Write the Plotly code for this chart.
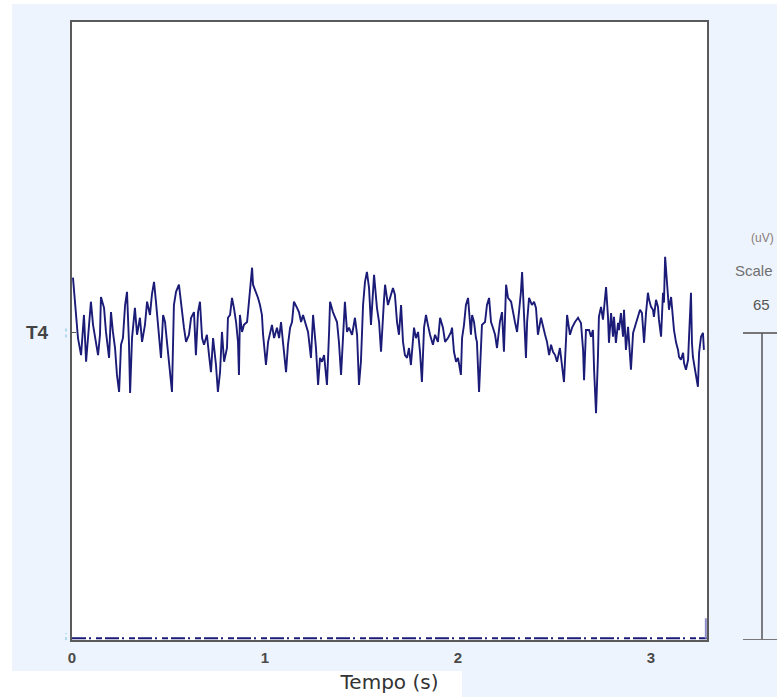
import plotly.graph_objects as go

# ---- data ----
t4_time = [0.005,0.016,0.031,0.047,0.062,0.073,0.088,0.098,0.109,0.119,0.135,0.145,0.150,0.166,0.176,0.192,0.202,0.212,0.223,0.233,
0.244,0.254,0.264,0.275,0.285,0.295,0.301,0.311,0.326,0.337,0.352,0.363,0.378,0.389,0.404,0.414,0.425,0.435,0.451,0.461,
0.472,0.482,0.492,0.508,0.518,0.528,0.539,0.554,0.565,0.580,0.591,0.606,0.617,0.632,0.642,
0.653,0.663,0.674,0.684,0.699,0.710,0.720,0.731,0.746,0.756,0.767,0.777,0.788,0.803,0.808,0.819,0.829,0.839,0.850,0.860,
0.865,0.870,0.881,0.891,0.907,0.912,0.922,0.933,0.938,0.953,0.964,0.974,0.984,0.990,1.005,1.016,1.026,1.036,1.047,1.062,
1.073,1.083,1.093,1.109,1.119,1.130,1.140,1.150,1.166,1.176,1.187,1.197,1.212,1.223,1.238,1.249,1.264,1.275,1.285,1.295,1.306,
1.311,1.321,1.332,1.337,1.352,1.363,1.373,1.383,1.394,1.404,1.414,1.425,1.435,1.451,1.466,1.477,1.487,1.497,1.508,1.518,
1.528,1.539,1.549,1.565,1.570,1.580,1.591,1.601,1.616,1.622,1.637,1.648,1.663,1.673,1.684,1.694,1.705,1.715,1.725,1.736,
1.746,1.756,1.772,1.782,1.793,1.803,1.813,1.824,1.834,1.844,1.855,1.870,1.881,1.896,1.907,1.922,1.933,1.948,
1.964,1.969,1.979,1.990,2.000,2.015,2.021,2.031,2.041,2.052,2.067,2.073,2.083,2.093,2.098,2.109,2.119,2.124,2.140,2.150,
2.161,2.171,2.181,2.192,2.202,2.217,2.228,2.238,2.249,2.259,2.275,2.280,2.295,2.306,2.316,2.326,2.332,2.342,2.352,2.358,
2.368,2.383,2.394,2.404,2.414,2.430,2.440,2.451,2.461,2.472,2.482,2.492,2.503,2.513,2.528,2.539,2.549,2.560,2.565,2.580,
2.591,2.606,2.622,2.627,2.637,2.648,2.653,2.663,2.679,2.689,2.699,2.705,2.715,2.725,2.730,2.741,2.751,2.756,2.767,2.777,
2.782,2.793,2.803,2.808,2.818,2.829,2.834,2.844,2.855,2.860,2.870,2.881,2.886,2.896,2.907,2.917,2.933,2.943,2.953,2.964,
2.974,2.984,2.990,3.000,3.010,3.015,3.026,3.036,3.041,3.052,3.062,3.067,3.073,3.083,3.088,3.093,3.104,3.114,3.119,3.130,
3.140,3.145,3.155,3.166,3.171,3.181,3.192,3.197,3.207,3.212,3.217,3.228,3.238,3.243,3.249,3.259,3.269,3.274]

t4_uv = [11.7,6.6,-1.1,-4.7,3.8,-6.1,1.1,6.6,1.7,-1.1,-4.7,-0.4,7.6,5.3,0.2,-5.3,4.4,0.2,-3.2,-8.9,
-12.5,-2.5,-1.1,5.9,8.7,-1.9,-12.7,-1.1,5.3,-0.4,3.2,-1.9,1.7,6.6,3.8,8.1,10.8,6.6,0.2,-5.3,
3.8,2.3,-1.9,-8.3,-12.5,5.9,8.7,10.2,5.9,1.1,-1.9,-0.4,3.2,4.4,-4.7,
4.4,6.6,-1.1,-2.5,-0.4,-4.7,-8.3,-1.1,-6.8,-12.5,-8.3,0.2,-6.1,-3.2,3.2,3.8,7.4,5.3,2.3,-1.9,
-8.9,3.8,0.2,1.7,2.3,4.4,9.5,13.8,10.2,8.7,7.4,5.9,3.8,-0.4,-6.8,-1.9,-0.4,1.7,-1.1,1.1,
-1.1,2.3,-1.9,-8.3,-2.5,1.1,2.3,6.6,5.3,4.4,2.3,3.8,1.7,0.2,-5.3,3.8,-3.2,-11.0,-5.3,-6.1,-4.7,
-6.8,-11.0,0.2,6.6,4.4,3.2,2.3,-1.9,-8.9,-1.1,6.6,0.2,1.1,-0.4,3.2,-0.4,-11.0,-6.1,5.9,10.8,
12.9,9.5,1.7,12.3,9.5,5.3,2.3,-4.0,6.6,10.2,5.9,7.4,9.5,8.1,2.3,-0.4,5.9,-1.9,-4.7,-5.3,
-3.2,-6.8,1.1,-1.1,0.2,-4.0,-10.4,1.1,3.8,1.7,-0.4,-2.5,-0.4,-1.9,3.2,1.1,-1.9,-1.1,
0.2,1.1,-4.0,-6.1,-5.3,-8.9,-1.1,1.7,5.9,7.4,-0.4,3.8,2.3,-1.1,-1.9,-12.5,-3.2,1.7,2.3,5.9,
7.4,2.3,1.1,-0.4,-3.2,2.3,4.4,-4.0,10.2,7.4,6.6,5.3,2.3,0.2,4.4,8.7,12.9,2.3,-5.3,2.3,
7.4,5.9,6.6,5.3,-0.4,3.2,1.1,-0.4,-1.9,-4.7,-2.5,-4.0,-4.7,-6.1,-3.2,-6.8,-10.4,-1.1,3.8,-0.4,
1.1,2.3,3.2,2.8,2.1,-3.6,-10.0,0.6,0.6,-0.8,0.6,-7.8,-17.0,-5.1,3.4,5.5,2.8,4.9,9.7,3.4,
-2.1,4.2,-0.8,3.4,-2.1,2.1,0.6,4.2,-0.8,4.9,-3.6,1.3,-2.1,-7.8,0.0,1.3,3.4,4.9,4.2,-2.1,
4.2,8.5,7.0,5.5,4.9,3.4,7.0,5.5,2.8,-0.8,8.5,6.4,16.1,10.6,7.6,4.9,7.6,3.4,0.6,-2.1,
-3.6,-5.1,-5.7,-4.2,-6.4,-7.8,-5.7,-0.8,8.5,-2.1,-5.1,-7.8,-10.0,-11.4,-4.2,-0.8,0.0,-3.6]

t4_offset = 65          # channel baseline (uV)
scale_uv = 65           # scale bar value
x_ticks = [0, 1, 2, 3]
x_end = 3.29
y_top = 130.8

NAVY = "#1b1b78"

fig = go.Figure()

# baseline channel at bottom (flat)
fig.add_trace(go.Scatter(x=[0.0, x_end], y=[0.35, 0.35], mode="lines",
                         line=dict(color=NAVY, width=2, dash="14px,3px,2px,5px,6px,3px"),
                         hoverinfo="skip", showlegend=False))
fig.add_trace(go.Scatter(x=[x_end - 0.006, x_end - 0.006], y=[0.3, 4.6], mode="lines",
                         line=dict(color="#8c8cc8", width=2), hoverinfo="skip", showlegend=False))

# T4 trace
fig.add_trace(go.Scatter(x=t4_time, y=[t4_offset + v for v in t4_uv], mode="lines",
                         line=dict(color=NAVY, width=1.9), hoverinfo="skip", showlegend=False))

L, R, T, B = 72, 70, 22, 57
W, H = 777, 697
pw, ph = W - L - R, H - T - B

def px(p):   # pixel x -> paper
    return (p - L) / pw

def py(p):   # pixel y -> paper
    return (H - B - p) / ph

BG = "#edf4fd"
shapes = [
    dict(type="rect", xref="paper", yref="paper", x0=px(12), x1=px(W + 5), y0=py(671), y1=py(4),
         fillcolor=BG, line=dict(width=0), layer="below"),
    dict(type="rect", xref="paper", yref="paper", x0=px(462), x1=px(W + 5), y0=py(H + 5), y1=py(671),
         fillcolor=BG, line=dict(width=0), layer="below"),
    dict(type="rect", xref="paper", yref="paper", x0=0, x1=1, y0=0, y1=1,
         fillcolor="white", line=dict(width=0), layer="below"),
    # scale bar
    dict(type="line", xref="paper", yref="y", x0=px(743), x1=px(W + 5), y0=scale_uv, y1=scale_uv,
         line=dict(color="#777777", width=2)),
    dict(type="line", xref="paper", yref="y", x0=px(762), x1=px(762), y0=0, y1=scale_uv,
         line=dict(color="#555555", width=1.5)),
    dict(type="line", xref="paper", yref="y", x0=px(743), x1=px(W + 5), y0=0, y1=0,
         line=dict(color="#777777", width=2)),
    # light blue dotted marks left of axis
    dict(type="line", xref="paper", yref="y", x0=px(66), x1=px(66), y0=t4_offset - 1, y1=t4_offset + 1,
         line=dict(color="#9fd0f0", width=1.5, dash="dot")),
    dict(type="line", xref="paper", yref="y", x0=px(66), x1=px(66), y0=0, y1=1.5,
         line=dict(color="#9fd0f0", width=1.5, dash="dot")),
]

annotations = [
    dict(text="<b>T4</b>", xref="paper", yref="y", x=px(51), y=t4_offset, xanchor="right", yanchor="middle",
         showarrow=False, font=dict(family="Liberation Sans, Arial", size=19, color="#444444")),
    dict(text="(uV)", xref="paper", yref="paper", x=px(762), y=py(238), xanchor="center", yanchor="middle",
         showarrow=False, font=dict(family="Liberation Sans, Arial", size=12, color="#8a7c78")),
    dict(text="Scale", xref="paper", yref="paper", x=px(775), y=py(270), xanchor="right", yanchor="middle",
         showarrow=False, font=dict(family="Liberation Sans, Arial", size=15, color="#707070")),
    dict(text="65", xref="paper", yref="paper", x=px(761), y=py(305), xanchor="center", yanchor="middle",
         showarrow=False, font=dict(family="Liberation Sans, Arial", size=15, color="#555555")),
    dict(text="", xref="paper", yref="y", x=px(775), y=scale_uv, ax=10, ay=0,
         showarrow=True, arrowhead=2, arrowsize=1, arrowwidth=1.5, arrowcolor="#333333"),
]

fig.update_layout(
    width=W, height=H,
    margin=dict(l=L, r=R, t=T, b=B),
    paper_bgcolor="white", plot_bgcolor="white",
    shapes=shapes, annotations=annotations,
    xaxis=dict(range=[0, x_end], tickvals=x_ticks, ticktext=[f"<b>{v}</b>" for v in x_ticks],
               automargin=False,
               showgrid=False, zeroline=False, showline=True, mirror=True,
               linecolor="#5a5a5a", linewidth=2, ticks="", ticklabelstandoff=3,
               tickfont=dict(family="Liberation Sans, Arial", size=15, color="#4a4a4a"),
               title=dict(text="Tempo (s)", standoff=10,
                          font=dict(family="DejaVu Sans, Verdana", size=20, color="#333333"))),
    yaxis=dict(range=[0, y_top], tickvals=[t4_offset], showticklabels=False, automargin=False,
               ticks="inside", ticklen=4, tickcolor="#555555",
               showgrid=False, zeroline=False, showline=True, mirror=True,
               linecolor="#5a5a5a", linewidth=2),
)

fig.write_html("out.html")
